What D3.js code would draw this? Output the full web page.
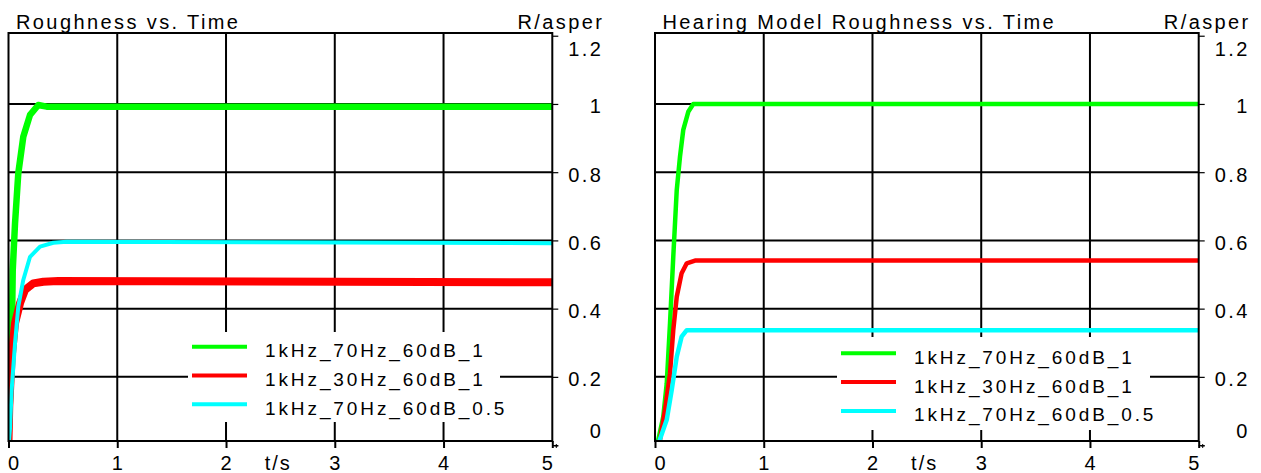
<!DOCTYPE html>
<html>
<head>
<meta charset="utf-8">
<script src="https://cdn.jsdelivr.net/npm/d3@7"></script>
<style>
  body { margin: 0; background: #fff; }
  svg { display: block; font-family: "Liberation Sans", Arial, sans-serif; }
</style>
</head>
<body>
<svg id="chart" width="1261" height="473"></svg>
<script>
// Ejes y leyenda
const timeTicks = [0, 1, 2, 3, 4, 5];
const roughTicks = [0, 0.2, 0.4, 0.6, 0.8, 1, 1.2];
const seriesNames = ["1kHz_70Hz_60dB_1", "1kHz_30Hz_60dB_1", "1kHz_70Hz_60dB_0.5"];
const seriesColors = ["#00ff00", "#ff0000", "#00ffff"];

// Panel izquierdo: Roughness vs. Time  ([t/s, R/asper])
const leftGreen = [[0, 0.012], [0.014, 0.142], [0.029, 0.279], [0.039, 0.513], [0.06, 0.65],
  [0.09, 0.797], [0.136, 0.904], [0.198, 0.968], [0.274, 0.997], [0.351, 0.992], [5, 0.992]];
const leftRed = [[0, 0.012], [0.007, 0.113], [0.029, 0.259], [0.06, 0.357], [0.106, 0.416],
  [0.152, 0.455], [0.228, 0.474], [0.32, 0.479], [0.458, 0.481], [5, 0.477]];
const leftCyan = [[0.005, 0.012], [0.014, 0.05], [0.029, 0.162], [0.06, 0.298], [0.09, 0.406],
  [0.136, 0.484], [0.198, 0.552], [0.29, 0.582], [0.412, 0.593], [0.535, 0.596], [5, 0.592]];

// Panel derecho: Hearing Model Roughness vs. Time
const rightGreen = [[0.02, 0.012], [0.03, 0.015], [0.076, 0.083], [0.108, 0.181], [0.138, 0.357],
  [0.168, 0.552], [0.2, 0.748], [0.23, 0.846], [0.26, 0.924], [0.306, 0.977], [0.352, 1.0], [5, 1.0]];
const rightRed = [[0.03, 0.012], [0.046, 0.015], [0.092, 0.103], [0.138, 0.21], [0.168, 0.337],
  [0.2, 0.435], [0.245, 0.504], [0.292, 0.533], [0.368, 0.541], [5, 0.541]];
const rightCyan = [[0.04, 0.012], [0.108, 0.074], [0.154, 0.162], [0.2, 0.259], [0.245, 0.318],
  [0.292, 0.337], [0.368, 0.337], [5, 0.337]];

const svg = d3.select("#chart");

function drawPanel(opts) {
  const x = d3.scaleLinear().domain([0, 5]).range([opts.left, opts.right]);
  const y = d3.scaleLinear().domain([0.012, 1.208]).range([441, 33]);
  const g = svg.append("g");

  // Título y unidad
  g.append("text")
    .attr("x", opts.left + 7.5).attr("y", 29)
    .attr("font-size", 20).attr("letter-spacing", "2.4px")
    .text(opts.title);
  g.append("text")
    .attr("x", opts.right + 52).attr("y", 29)
    .attr("text-anchor", "end")
    .attr("font-size", 20).attr("letter-spacing", "2.4px")
    .text("R/asper");

  // Rejilla
  g.selectAll(".vgrid")
    .data(timeTicks.slice(1, -1))
    .enter().append("line")
    .attr("x1", d => x(d)).attr("x2", d => x(d))
    .attr("y1", y.range()[1]).attr("y2", y.range()[0])
    .attr("stroke", "#000").attr("stroke-width", 2);
  g.selectAll(".hgrid")
    .data(roughTicks.slice(1, -1))
    .enter().append("line")
    .attr("x1", x.range()[0]).attr("x2", x.range()[1])
    .attr("y1", d => y(d)).attr("y2", d => y(d))
    .attr("stroke", "#000").attr("stroke-width", 2);

  // Curvas
  const clipId = "clip-" + opts.id;
  svg.append("clipPath").attr("id", clipId)
    .append("rect")
    .attr("x", x.range()[0]).attr("y", y.range()[1])
    .attr("width", x.range()[1] - x.range()[0])
    .attr("height", y.range()[0] - y.range()[1]);

  const line = d3.line().x(d => x(d[0])).y(d => y(d[1]));
  const curves = g.append("g").attr("clip-path", `url(#${clipId})`);
  opts.series.forEach((s, i) => {
    curves.append("path")
      .datum(s)
      .attr("d", line)
      .attr("fill", "none")
      .attr("stroke", seriesColors[i])
      .attr("stroke-width", opts.widths[i])
      .attr("stroke-linejoin", "round");
  });

  // Marco
  g.append("rect")
    .attr("x", x.range()[0]).attr("y", y.range()[1])
    .attr("width", x.range()[1] - x.range()[0])
    .attr("height", y.range()[0] - y.range()[1])
    .attr("fill", "none").attr("stroke", "#000").attr("stroke-width", 2);

  // Ejes (solo marcas)
  const xAxis = g.append("g")
    .attr("transform", `translate(0,${y.range()[0]})`)
    .call(d3.axisBottom(x).tickValues(timeTicks).tickSize(7).tickFormat(""));
  xAxis.select(".domain").remove();
  xAxis.selectAll("line").attr("stroke", "#000").attr("stroke-width", 2);

  const yAxis = g.append("g")
    .attr("transform", `translate(${x.range()[1]},0)`)
    .call(d3.axisRight(y).tickValues(roughTicks).tickSize(6).tickFormat(""));
  yAxis.select(".domain").remove();
  yAxis.selectAll("line").attr("stroke", "#000").attr("stroke-width", 1.2);

  // Etiquetas eje X
  g.selectAll(".xlab")
    .data(timeTicks)
    .enter().append("text")
    .attr("x", (d, i) => x(d) + (i === 0 ? 5 : i === timeTicks.length - 1 ? -5 : 0))
    .attr("y", 470)
    .attr("text-anchor", "middle")
    .attr("font-size", 20)
    .text(d => d);
  g.append("text")
    .attr("x", x(2.48)).attr("y", 470)
    .attr("text-anchor", "middle")
    .attr("font-size", 20).attr("letter-spacing", "2px")
    .text("t/s");

  // Etiquetas eje Y
  g.selectAll(".ylab")
    .data(roughTicks)
    .enter().append("text")
    .attr("x", x.range()[1] + 51)
    .attr("y", (d, i) => y(d) + 9.5 + (i === 0 ? -16.5 : i === roughTicks.length - 1 ? 10.5 : 0))
    .attr("text-anchor", "end")
    .attr("font-size", 20).attr("letter-spacing", "2.4px")
    .text(d => d3.format("~g")(d));

  // Cruz en la esquina
  const cx = x.range()[1] + 4, cy = y.range()[0] + 5;
  g.append("path")
    .attr("d", `M${cx - 2},${cy}H${cx + 2}M${cx},${cy - 2}V${cy + 2}`)
    .attr("stroke", "#000").attr("stroke-width", 1);

  // Leyenda
  const lg = g.append("g");
  lg.append("rect")
    .attr("x", opts.legend.x).attr("y", opts.legend.y)
    .attr("width", opts.legend.w).attr("height", opts.legend.h)
    .attr("fill", "#fff");
  seriesNames.forEach((name, i) => {
    const ly = opts.legend.rowY + i * 28.8;
    lg.append("line")
      .attr("x1", opts.legend.x + 4).attr("x2", opts.legend.x + 59)
      .attr("y1", ly).attr("y2", ly)
      .attr("stroke", seriesColors[i]).attr("stroke-width", 4);
    lg.append("text")
      .attr("x", opts.legend.x + 77).attr("y", ly + 10.5)
      .attr("font-size", 19).attr("letter-spacing", "2.9px")
      .text(name);
  });
}

drawPanel({
  id: "left", title: "Roughness vs. Time", left: 8.5, right: 552.3,
  series: [leftGreen, leftRed, leftCyan], widths: [6.5, 8, 4],
  legend: { x: 188, y: 332, w: 312, h: 90, rowY: 346.7 }
});
drawPanel({
  id: "right", title: "Hearing Model Roughness vs. Time", left: 655, right: 1198.7,
  series: [rightGreen, rightRed, rightCyan], widths: [4.5, 4.5, 4.5],
  legend: { x: 837, y: 337, w: 313, h: 93, rowY: 353.3 }
});
</script>
</body>
</html>
